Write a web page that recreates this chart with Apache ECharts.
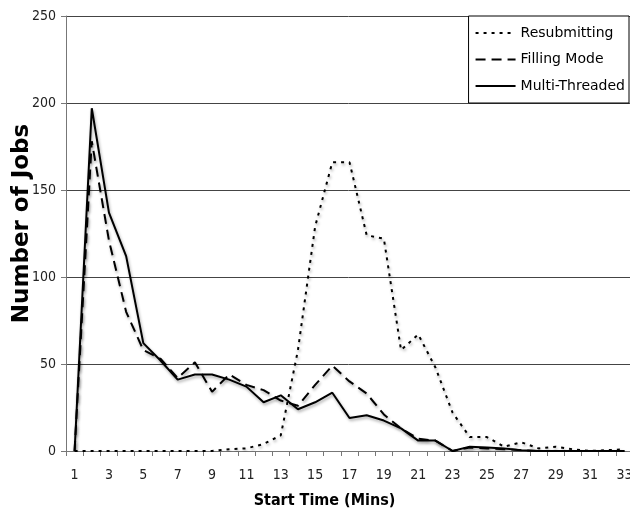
<!DOCTYPE html>
<html>
<head>
<meta charset="utf-8">
<script src="https://cdn.jsdelivr.net/npm/echarts@6/dist/echarts.min.js"></script>
<style>html,body{margin:0;padding:0;background:#fff}#c{width:630px;height:512px}</style>
</head>
<body>
<div id="c"></div>
<script>
var categories = ['1','2','3','4','5','6','7','8','9','10','11','12','13','14','15','16','17','18','19','20','21','22','23','24','25','26','27','28','29','30','31','32','33'];
var resubmitting = [0,0,0,0,0,0,0,0,0,1,1.5,4,9,58,129,166,166,124,122,58,67,48,22,8,8,2.5,5,1.5,2.5,1,0,0.5,1];
var fillingMode = [0,178,121,80,58,53,42,51,34,44,38,35,29,26,38,49,40,33,21,13,7,6,0,2,1.5,1,0.5,0,0,0,0,0,0];
var multiThreaded = [0,197,137,112,62,52,41,44,44,41,37,28,32,24,28,33.5,19,20.5,17.5,13,6,6,0,2.5,2,1.5,0.5,0,0,0,0,0,0];
var yTicks = {min: 0, max: 250, interval: 50};

var tickFont = '"Liberation Sans Narrow", "DejaVu Sans Condensed", "DejaVu Sans", sans-serif';
var chart = echarts.init(document.getElementById('c'), null, {renderer: 'canvas'});
var shadow = {shadowColor: 'rgba(0,0,0,0.35)', shadowBlur: 3, shadowOffsetX: 1, shadowOffsetY: 2};
function mkSeries(name, data, dash) {
  return {
    name: name, type: 'line', data: data, symbol: 'none', showSymbol: false,
    lineStyle: Object.assign({color: '#000', width: 2, type: dash}, shadow),
    itemStyle: {color: '#000'}
  };
}
chart.setOption({
  animation: false,
  textStyle: {fontFamily: 'DejaVu Sans'},
  grid: {left: 66, top: 16, width: 567, height: 435, outerBoundsMode: 'none', containLabel: false},
  legend: {
    orient: 'vertical', right: 1, top: 16,
    backgroundColor: '#fff', borderColor: '#000', borderWidth: 1,
    padding: [10, 4, 10, 6], itemGap: 12.5, itemWidth: 40, itemHeight: 16,
    itemStyle: {color: 'transparent', borderColor: 'transparent', borderWidth: 0},
    textStyle: {fontSize: 14, color: '#000', fontFamily: 'DejaVu Sans'},
    data: ['Resubmitting', 'Filling Mode', 'Multi-Threaded']
  },
  xAxis: {
    type: 'category', data: categories, boundaryGap: true,
    name: 'Start Time (Mins)', nameLocation: 'middle', nameGap: 42,
    nameTextStyle: {fontSize: 16, fontWeight: 'bold', color: '#000', fontFamily: '"DejaVu Sans Condensed", "DejaVu Sans"', padding: [0, 50, 0, 0]},
    axisLine: {lineStyle: {color: '#777', width: 1}},
    axisTick: {show: true, interval: 0, length: 5, lineStyle: {color: '#777'}},
    axisLabel: {interval: 1, fontSize: 14, color: '#222', margin: 17, fontFamily: tickFont}
  },
  yAxis: {
    type: 'value', min: yTicks.min, max: yTicks.max, interval: yTicks.interval,
    name: 'Number of Jobs', nameLocation: 'middle', nameGap: 32, nameRotate: 90, nameMoveOverlap: false,
    nameTextStyle: {fontSize: 23, fontWeight: 'bold', color: '#000', padding: [0, 0, 0, 20]},
    axisLine: {show: true, lineStyle: {color: '#777', width: 1}},
    axisTick: {show: true, length: 5, lineStyle: {color: '#777'}},
    axisLabel: {fontSize: 14, color: '#222', margin: 10, fontFamily: tickFont},
    splitLine: {show: true, lineStyle: {color: '#444', width: 1}}
  },
  series: [
    mkSeries('Resubmitting', resubmitting, [3, 5]),
    mkSeries('Filling Mode', fillingMode, [10, 6]),
    mkSeries('Multi-Threaded', multiThreaded, 'solid')
  ]
});
</script>
</body>
</html>
